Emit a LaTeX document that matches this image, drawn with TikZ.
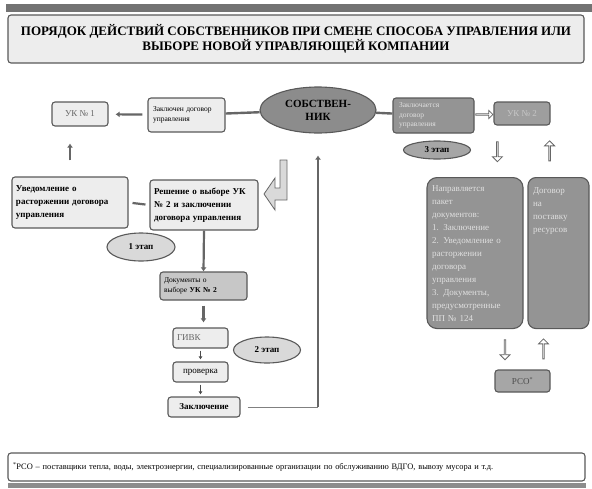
\documentclass[tikz,border=0pt]{standalone}
\usepackage{fontspec}
\setmainfont{Liberation Serif}
\usetikzlibrary{calc, positioning, arrows.meta, shapes.geometric, shapes.arrows}

\begin{document}
\begin{tikzpicture}[x=1pt, y=-1pt,
    lightbox/.style={draw=black!65, line width=1.1pt, rounded corners=3pt, fill=black!7, inner sep=2pt},
    darkbox/.style={draw=black!65, line width=1.1pt, rounded corners=3pt, fill=black!42, text=black!12, inner sep=2pt},
    stage/.style={ellipse, draw=black!65, line width=1.1pt, fill=black!15, inner sep=0pt, font=\bfseries\fontsize{9}{10}\selectfont},
    tiny/.style={font=\fontsize{7.5}{9.5}\selectfont},
    mid/.style={font=\fontsize{9}{13}\selectfont},
    link/.style={line width=2.4pt, draw=black!60},
    arr/.style={line width=2.2pt, draw=black!60, -{Latex[length=4pt, width=6pt]}},
    thinarr/.style={line width=0.8pt, draw=black!70, -{Latex[length=3pt, width=4pt]}},
    blockarr/.style={single arrow, draw=black!60, fill=white, line width=0.8pt, minimum height=20pt, minimum width=10pt, single arrow head extend=2pt, inner sep=0pt},
]
\useasboundingbox (0,0) rectangle (592,488);
% bars
\fill[black!55] (6,4) rectangle (592,12);
\fill[black!45] (8,483) rectangle (586,488);
% title
\node[lightbox, minimum width=576pt, minimum height=48pt, align=center, font=\bfseries\fontsize{13}{15}\selectfont] (title) at (296,39)
  {ПОРЯДОК ДЕЙСТВИЙ СОБСТВЕННИКОВ ПРИ СМЕНЕ СПОСОБА УПРАВЛЕНИЯ ИЛИ\\ВЫБОРЕ НОВОЙ УПРАВЛЯЮЩЕЙ КОМПАНИИ};

% top row
\node[ellipse, draw=black!65, line width=1.1pt, fill=black!45, minimum width=116pt, minimum height=46pt, inner sep=0pt, align=center, font=\bfseries\fontsize{11}{13}\selectfont] (owner) at (318,110) {СОБСТВЕН-\\НИК};
\node[lightbox, mid, minimum width=56pt, minimum height=24pt, text=black!60] (uk1) at (80,114) {УК № 1};
\node[lightbox, tiny, minimum width=77pt, minimum height=34pt, text width=67pt, align=left] (contract1) at (186.5,115) {Заключен договор\\управления};
\node[darkbox, tiny, minimum width=81pt, minimum height=35pt, text width=69pt, align=left] (contract2) at (433.5,115.5) {Заключается\\договор\\управления};
\node[darkbox, mid, fill=black!38, text=black!22, minimum width=56pt, minimum height=23pt] (uk2) at (522,113.5) {УК № 2};

\draw[link] (owner) -- (contract1);
\draw[link] (owner) -- (contract2);
\draw[arr, shorten <=5pt, shorten >=7pt] (contract1) -- (uk1);
\node[blockarr, minimum height=17pt, minimum width=8pt] (a1) at ($(contract2.east)!0.5!(uk2.west)$) {};

% left branch
\node[lightbox, mid, font=\bfseries\fontsize{9}{13}\selectfont, minimum width=116pt, minimum height=51pt, text width=108pt, align=left] (notice) at (70,202.5) {Уведомление о\\расторжении договора\\управления};
\node[lightbox, mid, font=\bfseries\fontsize{9}{13}\selectfont, minimum width=108pt, minimum height=50pt, text width=100pt, align=left] (decision) at (204,205) {Решение о выборе УК\\№ 2 и заключении\\договора управления};
\node[stage] (stage1) [minimum width=68pt, minimum height=28pt] at (141,247) {1 этап};
\node[lightbox, tiny, fill=black!22, minimum width=87pt, minimum height=28pt, text width=79pt, align=left] (docs) at (203.5,286) {Документы о\\выборе \textbf{УК № 2}};
\node[lightbox, mid, text=black!60, minimum width=55pt, minimum height=20pt, text width=47pt, align=left] (givk) at (200.5,338) {ГИВК};
\node[lightbox, mid, minimum width=55pt, minimum height=20pt] (check) at (200.5,372) {проверка};
\node[lightbox, mid, font=\bfseries\fontsize{9}{13}\selectfont, minimum width=72pt, minimum height=20pt] (concl) at (204,407) {Заключение};
\node[stage] (stage2) [minimum width=67pt, minimum height=26pt] at (267,350) {2 этап};
\coordinate (turn) at (318,407);

\draw[arr, shorten <=16pt, shorten >=17pt] (notice.north) -- (notice.north |- uk1.south);
\draw[arr, shorten <=4pt, shorten >=4pt, -] (decision.west) -- (notice.east);
\draw[arr] (decision.south) -- (docs.north);
\draw[arr, line width=2.6pt, shorten <=5pt, shorten >=5pt] (docs.south) -- (docs.south |- givk.north);
\draw[thinarr, shorten <=2pt, shorten >=2pt] (givk.south) -- (check.north);
\draw[thinarr, shorten <=2pt, shorten >=2pt] (check.south) -- (check.south |- concl.north);
\draw[line width=1pt, draw=black!50, shorten <=7pt] (concl.east) -- (turn);
\draw[arr, line width=2pt, shorten >=22pt] (turn) -- (owner.south);
% bent block arrow
\filldraw[fill=black!15, draw=black!60, line width=0.8pt] (280,160) -- (287,160) -- (287,200) -- (275,200) -- (275,210) -- (264,194) -- (275,178) -- (275,188) -- (280,188) -- cycle;

% right branch
\node[stage, fill=black!35] (stage3) [minimum width=67pt, minimum height=18pt] at (437,150) {3 этап};
\node[darkbox, mid, rounded corners=10pt, minimum width=96pt, minimum height=151pt, text width=86pt, align=left, anchor=north] (packet) at (475,177)
  {Направляется\\пакет\\документов:\\1. Заключение\\2. Уведомление о\\расторжении\\договора\\управления\\3. Документы,\\предусмотренные\\ПП № 124};
\node[darkbox, mid, rounded corners=8pt, minimum width=61pt, minimum height=151pt, text width=51pt, align=left, anchor=north] (supply) at (558.5,177) {Договор\\на\\поставку\\ресурсов\\[74pt]\mbox{}};
\node[darkbox, mid, fill=black!35, text=black!70, minimum width=55pt, minimum height=22pt] (rso) at (522.5,381) {РСО\textsuperscript{*}};

\node[blockarr, rotate=-90] (a2) at ($(uk2.south west)!0.5!(uk2.south west |- packet.north)+(4,0)$) {};
\node[blockarr, rotate=90] (a3) at ($(uk2.south east)!0.5!(uk2.south east |- supply.north)+(-1,0)$) {};
\node[blockarr, rotate=-90] (a4) at ($(packet.south)!0.5!(packet.south |- rso.north)+(30,0)$) {};
\node[blockarr, rotate=90] (a5) at ($(supply.south)!0.5!(supply.south |- rso.north)+(-15,0)$) {};

% footer
\node[lightbox, fill=white, minimum width=577pt, minimum height=28pt, text width=567pt, align=left, font=\fontsize{8.4}{10}\selectfont] (note) at (296.5,467)
  {\textsuperscript{*}РСО – поставщики тепла, воды, электроэнергии, специализированные организации по обслуживанию ВДГО, вывозу мусора и т.д.};
\end{tikzpicture}
\end{document}
